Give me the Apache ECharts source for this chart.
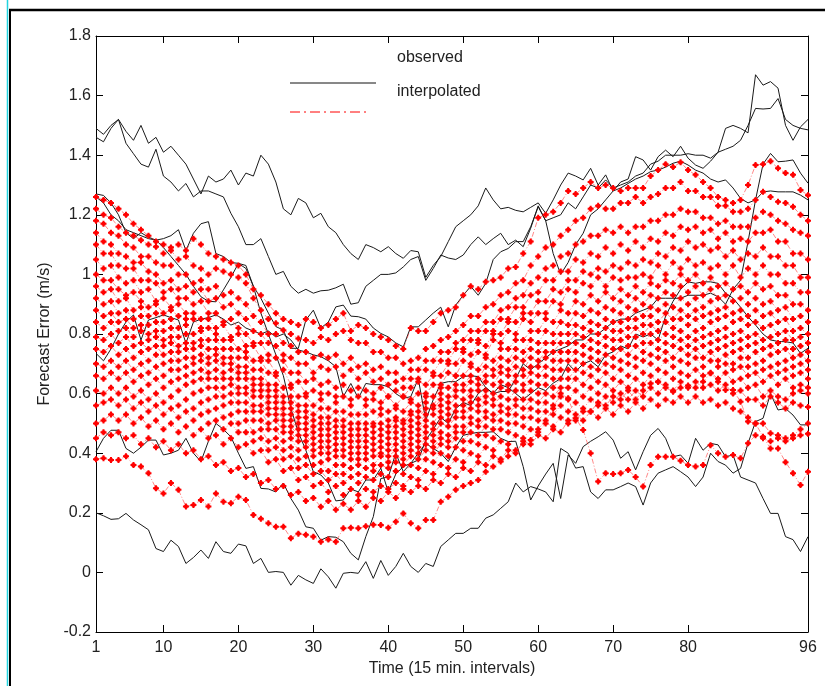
<!DOCTYPE html>
<html><head><meta charset="utf-8">
<script src="https://cdn.jsdelivr.net/npm/echarts@6/dist/echarts.min.js"></script>
<style>html,body{margin:0;padding:0;background:#fff}#c{width:825px;height:686px}</style>
</head><body><div id="c"></div>
<script>
const TIMES = [1,2,3,4,5,6,7,8,9,10,11,12,13,14,15,16,17,18,19,20,21,22,23,24,25,26,27,28,29,30,31,32,33,34,35,36,37,38,39,40,41,42,43,44,45,46,47,48,49,50,51,52,53,54,55,56,57,58,59,60,61,62,63,64,65,66,67,68,69,70,71,72,73,74,75,76,77,78,79,80,81,82,83,84,85,86,87,88,89,90,91,92,93,94,95,96];
const X_TICKS = [1,10,20,30,40,50,60,70,80,96];
const X_TITLE = 'Time (15 min. intervals)';
const Y_TITLE = 'Forecast Error (m/s)';
const LEGEND_LABELS = ['observed', 'interpolated'];

// observed (black)
const OBS_1 = [1.49,1.47,1.50,1.52,1.48,1.45,1.50,1.44,1.46,1.41,
 1.43,1.40,1.37,1.32,1.27,1.33,1.31,1.32,1.35,1.30,
 1.34,1.33,1.40,1.37,1.31,1.22,1.20,1.255,1.24,1.19,
 1.205,1.16,1.14,1.10,1.07,1.05,1.10,1.09,1.076,1.093,
 1.07,1.054,1.08,1.076,0.99,1.03,1.06,1.11,1.16,1.18,
 1.20,1.23,1.29,1.25,1.22,1.225,1.215,1.21,1.225,1.24,
 1.205,1.25,1.30,1.34,1.33,1.317,1.356,1.30,1.334,1.28,
 1.31,1.32,1.395,1.384,1.35,1.395,1.417,1.395,1.43,1.39,
 1.367,1.356,1.38,1.41,1.49,1.50,1.49,1.475,1.67,1.635,
 1.647,1.625,1.50,1.45,1.495,1.52];
const OBS_2 = [1.46,1.445,1.49,1.52,1.44,1.405,1.37,1.36,1.42,1.33,
 1.31,1.28,1.305,1.26,1.28,1.28,1.27,1.26,1.205,1.16,
 1.10,1.10,1.12,1.06,1.00,1.01,0.96,0.937,0.95,0.937,
 0.945,0.947,0.955,0.967,0.90,0.905,0.96,0.98,1.00,1.00,
 1.005,1.025,1.05,1.06,0.98,1.02,1.065,1.055,1.05,1.065,
 1.10,1.126,1.10,1.12,1.138,1.10,1.115,1.093,1.155,1.23,
 1.18,1.19,1.20,1.24,1.22,1.26,1.30,1.29,1.317,1.29,
 1.30,1.31,1.33,1.34,1.37,1.38,1.40,1.40,1.40,1.405,
 1.40,1.40,1.39,1.41,1.42,1.43,1.45,1.50,1.557,1.555,
 1.557,1.59,1.52,1.50,1.49,1.485];
const OBS_3 = [1.27,1.265,1.24,1.20,1.14,1.12,1.14,1.125,1.115,1.12,
 1.13,1.15,1.08,1.138,1.17,1.177,1.07,1.06,1.04,1.037,
 1.03,0.96,0.87,0.80,0.73,0.66,0.55,0.47,0.41,0.338,
 0.327,0.30,0.24,0.243,0.28,0.27,0.31,0.31,0.35,0.27,
 0.33,0.355,0.366,0.377,0.444,0.48,0.52,0.50,0.55,0.57,
 0.56,0.60,0.62,0.60,0.63,0.62,0.60,0.58,0.60,0.62,
 0.61,0.635,0.65,0.70,0.674,0.70,0.71,0.69,0.73,0.74,
 0.76,0.75,0.80,0.79,0.80,0.78,0.86,0.91,0.95,0.975,
 0.97,0.975,0.975,0.97,0.937,0.92,0.89,0.858,0.83,0.80,
 0.78,0.775,0.774,0.77,0.735,0.752];
const OBS_4 = [0.735,0.71,0.75,0.80,0.84,0.864,0.78,0.847,0.855,0.864,
 0.855,0.847,0.769,0.84,0.85,0.855,0.864,0.85,0.83,0.84,
 0.82,0.81,0.80,0.81,0.79,0.80,0.78,0.746,0.74,0.73,
 0.724,0.71,0.69,0.59,0.634,0.584,0.634,0.63,0.63,0.623,
 0.60,0.584,0.59,0.65,0.51,0.58,0.634,0.64,0.64,0.657,
 0.66,0.657,0.62,0.60,0.607,0.607,0.65,0.70,0.68,0.70,
 0.72,0.74,0.75,0.76,0.78,0.78,0.80,0.80,0.82,0.84,
 0.85,0.85,0.87,0.88,0.89,0.92,0.92,0.92,0.92,0.93,
 0.93,0.93,0.937,0.925,0.90,0.95,0.98,1.11,1.25,1.37,
 1.406,1.378,1.38,1.384,1.34,1.306];
const OBS_5 = [0.405,0.45,0.477,0.477,0.416,0.40,0.42,0.444,0.444,0.394,
 0.40,0.41,0.45,0.40,0.372,0.44,0.50,0.48,0.455,0.40,
 0.349,0.355,0.282,0.28,0.27,0.30,0.248,0.209,0.153,0.148,
 0.108,0.12,0.118,0.103,0.064,0.042,0.12,0.187,0.315,0.32,
 0.40,0.338,0.366,0.40,0.433,0.416,0.40,0.372,0.42,0.46,
 0.466,0.47,0.47,0.472,0.45,0.439,0.44,0.355,0.243,0.29,
 0.33,0.366,0.248,0.394,0.366,0.422,0.44,0.455,0.472,0.444,
 0.383,0.405,0.344,0.405,0.46,0.483,0.45,0.388,0.394,0.366,
 0.45,0.41,0.433,0.428,0.388,0.394,0.32,0.31,0.30,0.248,
 0.198,0.198,0.12,0.11,0.07,0.12];
const OBS_6 = [0.20,0.19,0.178,0.18,0.198,0.176,0.16,0.143,0.08,0.07,
 0.108,0.087,0.03,0.05,0.075,0.047,0.103,0.07,0.064,0.095,
 0.089,0.03,0.047,0.0,0.003,0.0,-0.043,-0.01,-0.025,-0.037,
 0.012,-0.015,-0.053,-0.003,0.0,-0.003,0.036,-0.02,0.04,-0.01,
 0.02,0.064,0.02,0.0,0.03,0.02,0.087,0.109,0.131,0.131,
 0.148,0.148,0.182,0.193,0.215,0.237,0.30,0.27,0.288,0.28,
 0.27,0.237,0.416,0.40,0.35,0.355,0.27,0.248,0.277,0.277,
 0.288,0.30,0.288,0.226,0.30,0.333,0.344,0.355,0.338,0.32,
 0.288,0.32,0.40,0.372,0.36,0.333,0.349,0.433,0.506,0.517,
 0.60,0.545,0.55,0.528,0.495,0.495];
const OBS_7 = [1.26,1.24,1.20,1.18,1.15,1.14,1.13,1.12,1.115,1.09,
 1.06,1.03,1.00,0.96,0.925,0.91,0.908,0.948,0.99,1.037,
 1.02,0.96,0.92,0.87,0.825,0.813,0.752,0.752,0.847,0.88,
 0.82,0.84,0.891,0.897,0.86,0.858,0.85,0.82,0.802,0.79,
 0.77,0.757,0.824,0.824,0.847,0.87,0.89,0.824,0.897,0.93,
 0.96,0.93,0.97,1.05,1.076,1.087,1.11,1.11,1.16,1.227,
 1.18,1.07,1.0,1.04,1.10,1.138,1.20,1.22,1.25,1.28,
 1.29,1.305,1.32,1.33,1.345,1.35,1.36,1.373,1.38,1.367,
 1.35,1.34,1.32,1.31,1.317,1.29,1.255,1.24,1.25,1.277,
 1.28,1.277,1.277,1.277,1.266,1.25];

// interpolated (red)
const INT_1 = [1.26,1.25,1.24,1.22,1.20,1.17,1.15,1.13,1.11,1.10,
 1.09,1.10,1.08,1.12,1.10,1.07,1.06,1.05,1.04,1.03,
 1.00,0.95,0.93,0.90,0.87,0.85,0.84,0.83,0.85,0.84,
 0.82,0.83,0.85,0.87,0.81,0.83,0.82,0.80,0.79,0.78,
 0.76,0.75,0.82,0.81,0.81,0.84,0.87,0.88,0.89,0.93,
 0.96,0.95,0.975,0.98,0.99,1.02,1.025,1.07,1.11,1.19,
 1.20,1.21,1.24,1.28,1.27,1.29,1.31,1.29,1.30,1.29,
 1.28,1.29,1.29,1.29,1.33,1.35,1.37,1.36,1.376,1.35,
 1.334,1.31,1.29,1.26,1.25,1.24,1.25,1.30,1.367,1.37,
 1.38,1.356,1.34,1.334,1.283,1.266];
const INT_2 = [1.22,1.20,1.19,1.16,1.14,1.13,1.115,1.10,1.093,1.07,
 1.08,1.05,1.06,1.03,1.02,1.00,1.02,1.01,1.00,0.99,
 0.97,0.92,0.88,0.85,0.836,0.813,0.80,0.785,0.78,0.77,
 0.79,0.78,0.80,0.81,0.78,0.77,0.77,0.74,0.74,0.72,
 0.72,0.70,0.71,0.72,0.75,0.76,0.78,0.79,0.81,0.83,
 0.86,0.86,0.89,0.90,0.93,0.94,0.97,0.98,1.03,1.06,
 1.09,1.10,1.13,1.15,1.18,1.19,1.22,1.23,1.22,1.22,
 1.24,1.24,1.26,1.24,1.26,1.27,1.29,1.29,1.31,1.28,
 1.28,1.26,1.26,1.23,1.23,1.21,1.21,1.22,1.25,1.277,
 1.26,1.244,1.24,1.227,1.20,1.18];
const INT_3 = [1.18,1.17,1.14,1.13,1.10,1.09,1.06,1.06,1.04,1.03,
 1.03,1.00,1.00,0.97,0.98,0.95,0.96,0.93,0.94,0.92,
 0.90,0.86,0.84,0.80,0.80,0.77,0.76,0.74,0.74,0.72,
 0.73,0.72,0.73,0.70,0.72,0.69,0.70,0.68,0.69,0.67,
 0.67,0.65,0.68,0.68,0.71,0.71,0.74,0.74,0.77,0.78,
 0.81,0.81,0.84,0.84,0.88,0.89,0.92,0.93,0.97,0.99,
 1.02,1.03,1.06,1.07,1.10,1.11,1.13,1.13,1.15,1.14,
 1.16,1.14,1.16,1.16,1.18,1.18,1.20,1.20,1.22,1.21,
 1.21,1.19,1.19,1.17,1.18,1.16,1.16,1.16,1.19,1.21,
 1.20,1.18,1.17,1.15,1.14,1.13];
const INT_4 = [1.14,1.11,1.10,1.07,1.06,1.04,1.04,1.01,1.00,0.97,
 0.98,0.95,0.96,0.94,0.95,0.91,0.92,0.89,0.90,0.87,
 0.85,0.81,0.80,0.77,0.76,0.73,0.72,0.70,0.70,0.67,
 0.69,0.68,0.69,0.66,0.68,0.65,0.67,0.64,0.65,0.63,
 0.64,0.62,0.65,0.65,0.68,0.67,0.71,0.71,0.75,0.75,
 0.78,0.78,0.81,0.81,0.85,0.85,0.89,0.89,0.93,0.94,
 0.98,0.98,1.01,1.01,1.05,1.04,1.07,1.06,1.09,1.07,
 1.10,1.08,1.11,1.09,1.12,1.11,1.14,1.13,1.16,1.15,
 1.16,1.14,1.15,1.12,1.14,1.11,1.12,1.11,1.14,1.14,
 1.15,1.11,1.11,1.07,1.07,1.05];
const INT_5 = [1.10,1.07,1.07,1.03,1.02,1.02,0.98,0.98,0.97,0.94,
 0.95,0.92,0.92,0.90,0.91,0.87,0.87,0.84,0.85,0.82,
 0.80,0.77,0.77,0.73,0.72,0.71,0.67,0.67,0.64,0.65,
 0.63,0.64,0.62,0.63,0.61,0.62,0.61,0.60,0.62,0.59,
 0.61,0.59,0.62,0.64,0.63,0.66,0.66,0.70,0.70,0.74,
 0.73,0.77,0.76,0.80,0.80,0.84,0.84,0.87,0.87,0.91,
 0.91,0.95,0.94,0.98,0.98,1.01,1.00,1.02,1.01,1.03,
 1.02,1.04,1.03,1.05,1.04,1.07,1.06,1.09,1.08,1.11,
 1.09,1.10,1.08,1.09,1.06,1.08,1.05,1.07,1.06,1.09,
 1.06,1.06,1.03,1.03,0.99,0.99];
const INT_6 = [1.05,1.02,1.03,0.99,0.97,0.98,0.94,0.95,0.91,0.92,
 0.89,0.90,0.87,0.87,0.85,0.85,0.82,0.83,0.79,0.80,
 0.76,0.76,0.72,0.71,0.67,0.68,0.63,0.64,0.60,0.61,
 0.60,0.60,0.59,0.59,0.58,0.59,0.58,0.58,0.57,0.59,
 0.56,0.59,0.58,0.60,0.60,0.63,0.63,0.67,0.66,0.71,
 0.70,0.74,0.73,0.78,0.77,0.81,0.80,0.85,0.84,0.87,
 0.87,0.91,0.90,0.95,0.94,0.97,0.96,0.99,0.96,0.99,
 0.98,0.99,0.99,1.00,0.99,1.03,1.00,1.04,1.02,1.05,
 1.03,1.04,1.02,1.03,1.00,1.03,0.99,1.02,1.00,1.03,
 1.00,1.00,0.97,0.97,0.94,0.94];
const INT_7 = [1.00,0.98,0.98,0.95,0.93,0.94,0.91,0.89,0.90,0.87,
 0.88,0.86,0.85,0.85,0.82,0.82,0.80,0.78,0.78,0.75,
 0.74,0.71,0.71,0.67,0.66,0.62,0.62,0.59,0.59,0.56,
 0.58,0.55,0.57,0.54,0.56,0.53,0.56,0.54,0.55,0.54,
 0.55,0.54,0.57,0.56,0.59,0.59,0.62,0.62,0.66,0.66,
 0.69,0.68,0.72,0.71,0.75,0.75,0.78,0.78,0.81,0.81,
 0.85,0.84,0.88,0.87,0.91,0.90,0.93,0.91,0.94,0.92,
 0.95,0.93,0.96,0.94,0.97,0.96,0.98,0.97,1.00,0.98,
 1.00,0.97,0.99,0.96,0.97,0.95,0.96,0.94,0.97,0.95,
 0.96,0.93,0.93,0.90,0.90,0.88];
const INT_8 = [0.96,0.94,0.95,0.91,0.92,0.88,0.89,0.86,0.87,0.84,
 0.85,0.82,0.83,0.80,0.81,0.78,0.78,0.75,0.75,0.72,
 0.72,0.68,0.68,0.63,0.63,0.59,0.59,0.56,0.56,0.53,
 0.55,0.52,0.54,0.51,0.53,0.50,0.53,0.50,0.53,0.51,
 0.52,0.51,0.54,0.54,0.57,0.56,0.60,0.59,0.63,0.63,
 0.66,0.65,0.69,0.68,0.72,0.71,0.75,0.74,0.78,0.77,
 0.81,0.80,0.84,0.83,0.87,0.86,0.88,0.87,0.89,0.88,
 0.91,0.89,0.92,0.90,0.93,0.92,0.94,0.93,0.96,0.94,
 0.96,0.93,0.95,0.92,0.93,0.91,0.92,0.90,0.92,0.90,
 0.91,0.88,0.89,0.85,0.86,0.84];
const INT_9 = [0.92,0.90,0.91,0.87,0.88,0.85,0.86,0.83,0.84,0.81,
 0.82,0.79,0.80,0.77,0.78,0.75,0.75,0.72,0.72,0.69,
 0.69,0.65,0.65,0.61,0.61,0.57,0.57,0.54,0.54,0.51,
 0.52,0.50,0.51,0.49,0.50,0.48,0.50,0.49,0.50,0.49,
 0.51,0.50,0.53,0.52,0.55,0.55,0.58,0.57,0.61,0.61,
 0.64,0.63,0.66,0.66,0.69,0.68,0.72,0.71,0.75,0.74,
 0.77,0.77,0.80,0.80,0.83,0.82,0.84,0.83,0.85,0.84,
 0.87,0.85,0.88,0.86,0.89,0.88,0.90,0.89,0.92,0.90,
 0.92,0.89,0.91,0.88,0.89,0.87,0.88,0.86,0.88,0.86,
 0.87,0.84,0.85,0.81,0.82,0.80];
const INT_10 = [0.88,0.86,0.87,0.84,0.85,0.82,0.83,0.80,0.81,0.78,
 0.79,0.76,0.77,0.75,0.76,0.72,0.73,0.70,0.70,0.67,
 0.67,0.63,0.63,0.59,0.59,0.55,0.55,0.52,0.52,0.49,
 0.50,0.48,0.49,0.47,0.48,0.46,0.48,0.47,0.48,0.47,
 0.49,0.48,0.51,0.50,0.53,0.53,0.56,0.55,0.59,0.58,
 0.61,0.61,0.64,0.63,0.67,0.66,0.69,0.68,0.72,0.71,
 0.74,0.74,0.77,0.77,0.80,0.79,0.81,0.80,0.82,0.81,
 0.84,0.82,0.85,0.83,0.86,0.84,0.87,0.85,0.88,0.86,
 0.88,0.86,0.87,0.85,0.86,0.84,0.85,0.83,0.84,0.82,
 0.83,0.80,0.81,0.78,0.79,0.77];
const INT_11 = [0.84,0.82,0.84,0.81,0.82,0.79,0.81,0.78,0.79,0.76,
 0.77,0.74,0.75,0.72,0.73,0.70,0.71,0.67,0.68,0.65,
 0.65,0.61,0.61,0.57,0.57,0.53,0.53,0.50,0.50,0.47,
 0.48,0.46,0.47,0.45,0.46,0.44,0.46,0.45,0.46,0.45,
 0.47,0.46,0.49,0.48,0.51,0.50,0.54,0.53,0.56,0.56,
 0.59,0.58,0.61,0.60,0.64,0.63,0.66,0.66,0.69,0.69,
 0.72,0.71,0.74,0.74,0.77,0.76,0.78,0.77,0.79,0.78,
 0.81,0.79,0.82,0.80,0.83,0.81,0.84,0.82,0.85,0.83,
 0.85,0.82,0.84,0.81,0.82,0.80,0.81,0.79,0.80,0.78,
 0.79,0.77,0.78,0.75,0.76,0.74];
const INT_12 = [0.79,0.78,0.80,0.77,0.79,0.76,0.77,0.75,0.76,0.73,
 0.74,0.71,0.72,0.70,0.71,0.67,0.68,0.65,0.65,0.62,
 0.62,0.59,0.59,0.55,0.55,0.51,0.51,0.48,0.48,0.45,
 0.46,0.44,0.45,0.43,0.44,0.42,0.44,0.43,0.44,0.43,
 0.45,0.44,0.47,0.46,0.49,0.48,0.52,0.51,0.54,0.54,
 0.57,0.56,0.59,0.58,0.62,0.61,0.64,0.63,0.67,0.66,
 0.69,0.68,0.71,0.71,0.74,0.73,0.75,0.74,0.76,0.75,
 0.78,0.76,0.79,0.77,0.80,0.78,0.80,0.79,0.81,0.79,
 0.81,0.79,0.80,0.78,0.79,0.77,0.78,0.76,0.77,0.75,
 0.76,0.74,0.75,0.72,0.73,0.71];
const INT_13 = [0.75,0.74,0.76,0.73,0.75,0.72,0.74,0.71,0.73,0.70,
 0.71,0.68,0.69,0.67,0.68,0.65,0.65,0.62,0.63,0.60,
 0.60,0.56,0.56,0.53,0.53,0.49,0.49,0.46,0.46,0.43,
 0.44,0.42,0.43,0.41,0.42,0.40,0.42,0.41,0.42,0.41,
 0.43,0.42,0.45,0.44,0.47,0.46,0.50,0.49,0.52,0.52,
 0.55,0.54,0.57,0.56,0.59,0.58,0.61,0.61,0.64,0.63,
 0.66,0.65,0.68,0.68,0.71,0.70,0.72,0.71,0.73,0.72,
 0.75,0.73,0.76,0.74,0.77,0.75,0.77,0.76,0.78,0.76,
 0.78,0.76,0.77,0.75,0.76,0.74,0.75,0.72,0.74,0.71,
 0.73,0.70,0.71,0.69,0.70,0.68];
const INT_14 = [0.70,0.69,0.71,0.69,0.71,0.68,0.70,0.67,0.69,0.66,
 0.68,0.65,0.66,0.64,0.65,0.62,0.62,0.59,0.60,0.57,
 0.57,0.54,0.54,0.50,0.51,0.47,0.47,0.44,0.44,0.41,
 0.42,0.40,0.41,0.39,0.40,0.38,0.40,0.39,0.40,0.39,
 0.41,0.40,0.43,0.42,0.45,0.44,0.47,0.46,0.49,0.49,
 0.52,0.51,0.54,0.53,0.56,0.55,0.58,0.58,0.61,0.60,
 0.63,0.62,0.65,0.65,0.68,0.67,0.69,0.68,0.70,0.69,
 0.71,0.70,0.72,0.71,0.73,0.72,0.74,0.72,0.75,0.73,
 0.75,0.72,0.74,0.71,0.73,0.70,0.72,0.69,0.70,0.68,
 0.69,0.67,0.68,0.66,0.67,0.65];
const INT_15 = [0.66,0.65,0.67,0.65,0.67,0.64,0.66,0.63,0.65,0.62,
 0.64,0.61,0.63,0.60,0.61,0.58,0.59,0.56,0.57,0.54,
 0.54,0.51,0.51,0.48,0.48,0.44,0.45,0.41,0.42,0.39,
 0.40,0.38,0.39,0.36,0.38,0.36,0.38,0.36,0.39,0.37,
 0.39,0.38,0.41,0.40,0.43,0.42,0.45,0.44,0.47,0.47,
 0.50,0.49,0.52,0.51,0.54,0.53,0.56,0.55,0.58,0.57,
 0.60,0.59,0.62,0.62,0.65,0.63,0.66,0.64,0.67,0.65,
 0.68,0.66,0.69,0.67,0.70,0.68,0.71,0.69,0.71,0.70,
 0.72,0.69,0.71,0.69,0.70,0.68,0.69,0.66,0.67,0.64,
 0.66,0.63,0.65,0.62,0.63,0.62];
const INT_16 = [0.61,0.60,0.62,0.60,0.62,0.59,0.61,0.58,0.60,0.57,
 0.59,0.56,0.58,0.55,0.57,0.54,0.55,0.52,0.53,0.50,
 0.51,0.47,0.48,0.44,0.45,0.41,0.42,0.38,0.39,0.36,
 0.37,0.34,0.36,0.33,0.35,0.33,0.35,0.34,0.36,0.35,
 0.37,0.36,0.39,0.38,0.41,0.40,0.43,0.42,0.45,0.44,
 0.47,0.46,0.49,0.48,0.51,0.50,0.53,0.52,0.55,0.54,
 0.57,0.56,0.59,0.58,0.61,0.59,0.62,0.60,0.63,0.61,
 0.64,0.62,0.65,0.63,0.66,0.64,0.67,0.65,0.67,0.66,
 0.68,0.66,0.67,0.65,0.67,0.64,0.65,0.62,0.63,0.59,
 0.61,0.59,0.58,0.60,0.61,0.60];
const INT_17 = [0.56,0.57,0.58,0.56,0.58,0.55,0.57,0.54,0.56,0.53,
 0.55,0.52,0.54,0.51,0.53,0.50,0.51,0.48,0.50,0.47,
 0.47,0.44,0.45,0.41,0.42,0.38,0.39,0.35,0.36,0.33,
 0.34,0.31,0.33,0.30,0.32,0.30,0.32,0.31,0.33,0.32,
 0.34,0.33,0.36,0.35,0.38,0.37,0.40,0.39,0.42,0.41,
 0.44,0.43,0.46,0.45,0.48,0.47,0.50,0.49,0.52,0.51,
 0.54,0.53,0.56,0.54,0.57,0.55,0.58,0.56,0.59,0.57,
 0.60,0.58,0.61,0.59,0.62,0.60,0.63,0.61,0.64,0.62,
 0.64,0.62,0.63,0.61,0.63,0.60,0.61,0.58,0.58,0.56,
 0.59,0.57,0.55,0.57,0.56,0.555];
const INT_18 = [0.50,0.51,0.53,0.51,0.53,0.50,0.52,0.49,0.51,0.48,
 0.50,0.47,0.49,0.46,0.48,0.45,0.46,0.43,0.45,0.42,
 0.43,0.40,0.41,0.37,0.38,0.34,0.35,0.31,0.32,0.29,
 0.30,0.27,0.29,0.26,0.28,0.26,0.28,0.27,0.29,0.28,
 0.30,0.29,0.32,0.31,0.34,0.33,0.36,0.35,0.38,0.37,
 0.40,0.39,0.42,0.41,0.44,0.43,0.46,0.45,0.48,0.47,
 0.50,0.49,0.52,0.50,0.53,0.51,0.54,0.52,0.55,0.53,
 0.56,0.54,0.57,0.55,0.58,0.56,0.58,0.57,0.59,0.57,
 0.59,0.57,0.58,0.56,0.57,0.55,0.54,0.52,0.50,0.50,
 0.467,0.46,0.45,0.46,0.48,0.50];
const INT_19 = [0.45,0.47,0.46,0.47,0.45,0.46,0.43,0.45,0.42,0.44,
 0.41,0.43,0.40,0.41,0.38,0.39,0.36,0.37,0.34,0.35,
 0.32,0.33,0.30,0.31,0.28,0.29,0.26,0.27,0.24,0.25,
 0.22,0.24,0.21,0.23,0.21,0.24,0.22,0.25,0.24,0.27,
 0.25,0.28,0.27,0.29,0.28,0.31,0.30,0.33,0.32,0.35,
 0.34,0.37,0.36,0.39,0.38,0.41,0.40,0.44,0.43,0.46,
 0.45,0.48,0.47,0.51,0.51,0.54,0.54,0.57,0.56,0.59,
 0.58,0.61,0.58,0.61,0.634,0.64,0.62,0.606,0.62,0.627,
 0.62,0.64,0.668,0.64,0.612,0.612,0.573,0.506,0.50,0.455,
 0.416,0.416,0.37,0.333,0.293,0.338];
const INT_20 = [0.38,0.383,0.377,0.377,0.39,0.36,0.355,0.333,0.282,0.265,
 0.30,0.277,0.221,0.226,0.243,0.221,0.265,0.237,0.232,0.254,
 0.243,0.193,0.18,0.165,0.153,0.153,0.115,0.13,0.126,0.12,
 0.103,0.11,0.103,0.148,0.15,0.148,0.155,0.16,0.159,0.15,
 0.17,0.198,0.165,0.148,0.176,0.176,0.237,0.254,0.277,0.29,
 0.30,0.31,0.338,0.355,0.372,0.39,0.41,0.43,0.444,0.48,
 0.51,0.55,0.60,0.584,0.517,0.478,0.40,0.305,0.333,0.33,
 0.333,0.344,0.32,0.288,0.36,0.388,0.388,0.388,0.375,0.36,
 0.355,0.36,0.427,0.40,0.388,0.394,0.383,0.433,0.46,0.45,
 0.44,0.45,0.44,0.45,0.46,0.465];

const OBSERVED = [OBS_1, OBS_2, OBS_3, OBS_4, OBS_5, OBS_6, OBS_7];
const INTERPOLATED = [INT_1, INT_2, INT_3, INT_4, INT_5, INT_6, INT_7, INT_8, INT_9, INT_10,
  INT_11, INT_12, INT_13, INT_14, INT_15, INT_16, INT_17, INT_18, INT_19, INT_20];

const FONT = '"Liberation Sans", Arial, sans-serif';
const MARKER = 'path://M2,0H4V1.2H4.8V2H6V4H4.8V4.8H4V6H2V4.8H1.2V4H0V2H1.2V1.2H2Z';
const pairs = arr => TIMES.map((t, i) => [t, arr[i]]);

const series = [];
OBSERVED.forEach(arr => series.push({
  type: 'line', name: LEGEND_LABELS[0], data: pairs(arr), symbol: 'none',
  lineStyle: { color: '#1a1a1a', width: 1 }, z: 2, silent: true
}));
INTERPOLATED.forEach(arr => series.push({
  type: 'line', name: LEGEND_LABELS[1], data: pairs(arr), symbol: MARKER, symbolSize: 6,
  showAllSymbol: true, itemStyle: { color: '#ff0000' },
  lineStyle: { color: 'rgba(255,40,40,0.55)', width: 1, type: [5, 2, 1, 2] }, z: 3, silent: true
}));

const axisCommon = {
  axisLine: { show: true, onZero: false, lineStyle: { color: '#000', width: 1 } },
  splitLine: { show: false }
};

const option = {
  animation: false,
  backgroundColor: '#fff',
  grid: { left: 96, right: 17, top: 36, bottom: 54, containLabel: false },
  xAxis: [
    Object.assign({}, axisCommon, {
      type: 'value', min: 1, max: 96, position: 'bottom',
      axisTick: { show: true, inside: true, length: 7, customValues: X_TICKS, lineStyle: { color: '#000' } },
      axisLabel: { customValues: X_TICKS, color: '#222', fontSize: 16, fontFamily: FONT, margin: 8 },
      name: X_TITLE, nameLocation: 'middle', nameGap: 28,
      nameTextStyle: { color: '#222', fontSize: 16, fontFamily: FONT }
    }),
    Object.assign({}, axisCommon, {
      type: 'value', min: 1, max: 96, position: 'top',
      axisTick: { show: true, inside: true, length: 7, customValues: X_TICKS, lineStyle: { color: '#000' } },
      axisLabel: { show: false }
    })
  ],
  yAxis: [
    Object.assign({}, axisCommon, {
      type: 'value', min: -0.2, max: 1.8, interval: 0.2, position: 'left',
      axisTick: { show: true, inside: true, length: 7, lineStyle: { color: '#000' } },
      axisLabel: { color: '#222', fontSize: 16, fontFamily: FONT, margin: 5,
        formatter: v => String(parseFloat(v.toFixed(1))) },
      name: Y_TITLE, nameLocation: 'middle', nameGap: 43,
      nameTextStyle: { color: '#222', fontSize: 16, fontFamily: FONT }
    }),
    Object.assign({}, axisCommon, {
      type: 'value', min: -0.2, max: 1.8, interval: 0.2, position: 'right',
      axisTick: { show: true, inside: true, length: 7, lineStyle: { color: '#000' } },
      axisLabel: { show: false }
    })
  ],
  graphic: { elements: [
    { type: 'line', shape: { x1: 7.5, y1: 0, x2: 7.5, y2: 686 }, style: { stroke: '#22d4e0', lineWidth: 1.5 }, silent: true },
    { type: 'line', shape: { x1: 10, y1: 10, x2: 10, y2: 686 }, style: { stroke: '#000', lineWidth: 2 }, silent: true },
    { type: 'line', shape: { x1: 9, y1: 10, x2: 825, y2: 10 }, style: { stroke: '#000', lineWidth: 2.5 }, silent: true },
    { type: 'text', style: { text: LEGEND_LABELS[0], x: 397, y: 58, fill: '#222', font: '16px ' + FONT, verticalAlign: 'middle' }, silent: true },
    { type: 'text', style: { text: LEGEND_LABELS[1], x: 397, y: 92, fill: '#222', font: '16px ' + FONT, verticalAlign: 'middle' }, silent: true },
    { type: 'line', shape: { x1: 290, y1: 83, x2: 376, y2: 83 }, style: { stroke: '#111', lineWidth: 1 }, silent: true },
    { type: 'line', shape: { x1: 290, y1: 112, x2: 368, y2: 112 }, style: { stroke: '#ff0000', lineWidth: 1, lineDash: [10, 4, 2, 4] }, silent: true }
  ]},
  series: series
};

const chart = echarts.init(document.getElementById('c'), null, { renderer: 'canvas' });
chart.setOption(option);
</script>
</body></html>
